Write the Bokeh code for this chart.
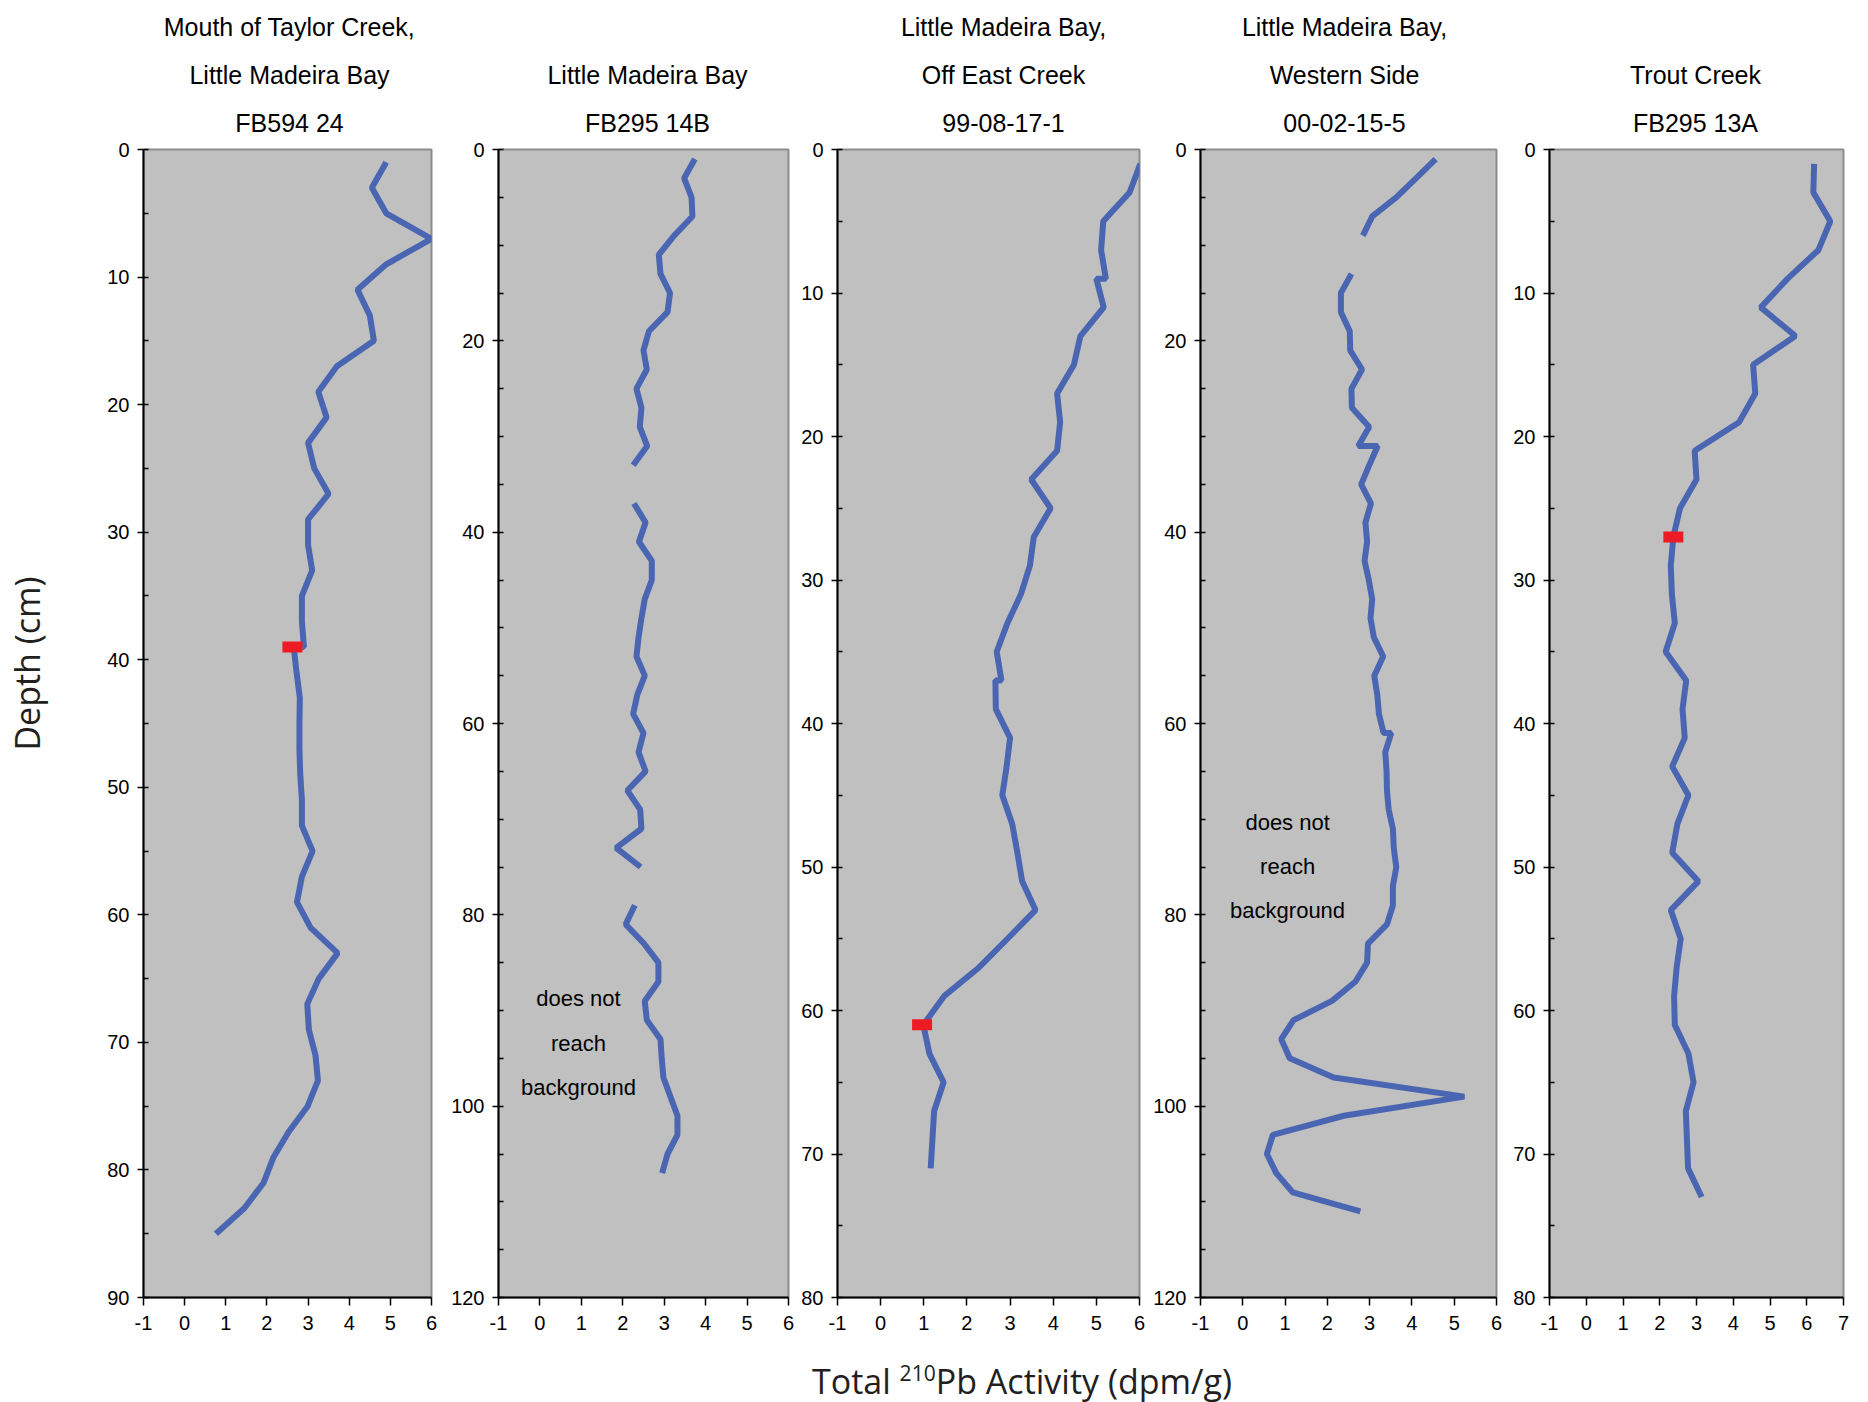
import math
from bokeh.plotting import figure
from bokeh.models import Range1d, FixedTicker, Div, Spacer, ColumnDataSource
from bokeh.layouts import row, column
from bokeh.embed import file_html
from bokeh.resources import INLINE
from bokeh.core.properties import value

nan = float("nan")

# ---------------- data (depth in cm, total 210Pb activity in dpm/g) ----------------
titles1 = ["Mouth of Taylor Creek,", "Little Madeira Bay", "FB594 24"]
depth1 = [1, 3, 5, 7, 9, 11, 13, 15, 17, 19, 21, 23, 25, 27, 29, 31, 33, 35, 37, 39, 39,
          41, 43, 45, 47, 49, 51, 53, 55, 57, 59, 61, 63, 65, 67, 69, 71, 73, 75, 77, 79,
          81, 83, 85]
act1 = [4.9, 4.55, 4.9, 6.0, 4.9, 4.2, 4.5, 4.6, 3.7, 3.25, 3.45, 3.0, 3.15, 3.5, 3.0, 3.0,
        3.1, 2.85, 2.85, 2.9, 2.65, 2.72, 2.8, 2.79, 2.79, 2.81, 2.85, 2.85, 3.11, 2.85,
        2.73, 3.06, 3.72, 3.26, 2.98, 3.02, 3.18, 3.24, 2.99, 2.53, 2.16, 1.92, 1.45, 0.76]
marker1_act = [2.62]
marker1_depth = [39]

titles2 = ["Little Madeira Bay", "FB295 14B"]
depth2 = [1, 3, 5, 7, 9, 11, 13, 15, 17, 19, 21, 23, 25, 27, 29, 31, 33, 35, 37, 39, 41,
          43, 45, 47, 49, 51, 53, 55, 57, 59, 61, 63, 65, 67, 69, 71, 73, 75, 77, 79, 81,
          83, 85, 87, 89, 91, 93, 95, 97, 99, 101, 103, 105, 107]
act2 = [3.74, 3.48, 3.66, 3.68, 3.24, 2.87, 2.91, 3.14, 3.08, 2.63, 2.5, 2.58, 2.33, 2.45,
        2.41, 2.59, 2.25, nan, 2.27, 2.55, 2.39, 2.7, 2.7, 2.53, 2.45, 2.38, 2.33, 2.53,
        2.35, 2.25, 2.5, 2.38, 2.55, 2.11, 2.42, 2.45, 1.84, 2.43, nan, 2.29, 2.07, 2.51,
        2.86, 2.86, 2.53, 2.58, 2.91, 2.94, 2.98, 3.15, 3.32, 3.32, 3.08, 2.95]
marker2_act = []
marker2_depth = []

titles3 = ["Little Madeira Bay,", "Off East Creek", "99-08-17-1"]
depth3 = [1, 3, 5, 7, 9, 9, 11, 13, 15, 17, 19, 21, 23, 25, 27, 29, 31, 33, 35, 37, 37, 39,
          41, 43, 45, 47, 49, 51, 53, 55, 57, 59, 61, 63, 65, 67, 69, 71]
act3 = [6.02, 5.77, 5.16, 5.11, 5.22, 5.0, 5.17, 4.63, 4.48, 4.09, 4.16, 4.09, 3.49, 3.94,
        3.55, 3.46, 3.25, 2.94, 2.69, 2.8, 2.66, 2.67, 3.0, 2.92, 2.82, 3.05, 3.17, 3.28,
        3.59, 2.94, 2.28, 1.47, 0.99, 1.13, 1.46, 1.24, 1.2, 1.16]
marker3_act = [0.96]
marker3_depth = [61]

titles4 = ["Little Madeira Bay,", "Western Side", "00-02-15-5"]
depth4 = [1, 3, 5, 7, 9, 11, 13, 15, 17, 19, 21, 23, 25, 27, 29, 31, 31, 33, 35, 37, 39, 41,
          43, 45, 47, 49, 51, 53, 55, 57, 59, 61, 61, 63, 65, 67, 69, 71, 73, 75, 77, 79, 81,
          83, 85, 87, 89, 91, 93, 95, 97, 99, 101, 103, 105, 107, 109, 111]
act4 = [4.56, 4.1, 3.63, 3.06, 2.84, nan, 2.57, 2.32, 2.32, 2.53, 2.54, 2.82, 2.57, 2.58,
        2.99, 2.73, 3.19, 2.99, 2.8, 3.03, 2.9, 2.94, 2.88, 2.98, 3.06, 3.02, 3.1, 3.32,
        3.11, 3.18, 3.22, 3.33, 3.51, 3.37, 3.4, 3.41, 3.45, 3.55, 3.57, 3.63, 3.55, 3.55,
        3.41, 2.96, 2.94, 2.66, 2.11, 1.2, 0.91, 1.11, 2.15, 5.24, 2.39, 0.71, 0.57, 0.79,
        1.18, 2.78]
marker4_act = []
marker4_depth = []

titles5 = ["Trout Creek", "FB295 13A"]
depth5 = [1, 3, 5, 7, 9, 11, 13, 15, 17, 19, 21, 23, 25, 27, 29, 31, 33, 35, 37, 39, 41, 43,
          45, 47, 49, 51, 53, 55, 57, 59, 61, 63, 65, 67, 69, 71, 73]
act5 = [6.2, 6.18, 6.64, 6.32, 5.48, 4.75, 5.69, 4.54, 4.6, 4.16, 2.95, 3.0, 2.55, 2.37,
        2.3, 2.33, 2.41, 2.16, 2.72, 2.62, 2.68, 2.34, 2.78, 2.48, 2.34, 3.05, 2.3, 2.57,
        2.46, 2.39, 2.41, 2.78, 2.92, 2.71, 2.74, 2.77, 3.14]
marker5_act = [2.37]
marker5_depth = [27]

x_max = [6, 6, 6, 6, 7]
depth_max = [90, 120, 80, 120, 80]
depth_step = [10, 20, 10, 20, 10]

note_lines = ["does not", "reach", "background"]

y_label = "Depth (cm)"
x_label_html = ('Total <sup style="font-size:0.62em;vertical-align:0.6em;line-height:0">'
                '210</sup>Pb Activity (dpm/g)')

# ---------------- styling / layout (pixel geometry of the page) ----------------
BLUE = "#4A66B2"
RED = "#ED1C24"
GRAY = "#C0C0C0"
INK = "#231F20"
SANS = "Liberation Sans"

LABEL_W = 60
frame_w = [288, 290, 302, 296, 294]
border_left = [143 - LABEL_W, 57, 39, 51, 43]
title_cx = [289, 647, 1003, 1344, 1695]        # page x of title centres
title_row_y = [26, 74, 122]                      # page y of the three title rows
note_pos = [None, (0.93, [88.7, 93.4, 98.1]), None, (1.06, [70.3, 74.9, 79.5]), None]

STRIP_H, TOP, FRAME_H, BOTTOM, RIGHT = 137, 12, 1148, 55, 10
PANEL_H = TOP + FRAME_H + BOTTOM
fig_w = [border_left[i] + frame_w[i] + RIGHT for i in range(5)]
TOTAL_W = LABEL_W + sum(fig_w)

all_titles = [titles1, titles2, titles3, titles4, titles5]
all_depth = [depth1, depth2, depth3, depth4, depth5]
all_act = [act1, act2, act3, act4, act5]
all_mx = [marker1_act, marker2_act, marker3_act, marker4_act, marker5_act]
all_my = [marker1_depth, marker2_depth, marker3_depth, marker4_depth, marker5_depth]


def blank(width, height):
    f = figure(width=width, height=height, x_range=Range1d(0, width),
               y_range=Range1d(height, 0), x_axis_type=None, y_axis_type=None,
               output_backend="svg", toolbar_location=None, min_border=0,
               outline_line_color=None, background_fill_color="white",
               border_fill_color="white")
    f.grid.visible = False
    return f


# --- title strip across the top ---
tx, ty, tt = [], [], []
for i in range(5):
    lines = all_titles[i]
    rows = title_row_y[len(title_row_y) - len(lines):]
    for line, ry in zip(lines, rows):
        tx.append(title_cx[i])
        ty.append(ry)
        tt.append(line)
top_strip = blank(TOTAL_W, STRIP_H)
top_strip.text(x="x", y="y", text="t", source=ColumnDataSource(dict(x=tx, y=ty, t=tt)),
               text_align="center", text_baseline="middle", text_font=value(SANS),
               text_font_size="25px", text_color="black")

# --- y-axis title strip on the left ---
left_strip = blank(LABEL_W, PANEL_H)
left_strip.text(x=[26], y=[681 - STRIP_H], text=[y_label], angle=math.pi / 2,
                text_align="center", text_baseline="middle",
                text_font=value("Open Sans"), text_font_size="34px", text_color=INK)

figs = [left_strip]
for i in range(5):
    xmin, xmax, dmax = -1, x_max[i], depth_max[i]
    p = figure(width=fig_w[i], height=PANEL_H,
               x_range=Range1d(xmin, xmax), y_range=Range1d(dmax, 0),
               output_backend="svg", toolbar_location=None,
               min_border_left=border_left[i], min_border_right=RIGHT,
               min_border_top=TOP, min_border_bottom=BOTTOM,
               background_fill_color=GRAY, border_fill_color="white",
               outline_line_color="#8C8C8C", outline_line_width=2)
    p.xgrid.visible = False
    p.ygrid.visible = False

    xt = list(range(xmin, xmax + 1))
    p.xaxis.ticker = FixedTicker(ticks=xt)
    p.xaxis.major_label_overrides = {t: str(t) for t in xt}
    p.xaxis.major_tick_in = 0
    p.xaxis.major_tick_out = 8
    p.xaxis.major_label_standoff = 10

    p.yaxis.ticker = FixedTicker(
        ticks=list(range(0, dmax + 1, depth_step[i])),
        minor_ticks=list(range(0, dmax + 1, 5)))
    p.yaxis.major_tick_in = 0
    p.yaxis.major_tick_out = 6
    p.yaxis.minor_tick_in = 5
    p.yaxis.minor_tick_out = 0
    p.yaxis.major_label_standoff = 8

    for ax, minor in ((p.xaxis[0], None), (p.yaxis[0], "black")):
        ax.axis_line_color = "black"
        ax.axis_line_width = 2
        ax.major_tick_line_color = "black"
        ax.major_tick_line_width = 1.5
        ax.minor_tick_line_color = minor
        ax.minor_tick_line_width = 1.5
        ax.major_label_text_font = SANS
        ax.major_label_text_font_size = "20px"
        ax.major_label_text_color = "black"

    src = ColumnDataSource(dict(x=all_act[i], y=all_depth[i]))
    p.line("x", "y", source=src, line_color=BLUE, line_width=6)

    if all_mx[i]:
        p.rect(x=all_mx[i], y=all_my[i], width=20, height=11,
               width_units="screen", height_units="screen",
               fill_color=RED, line_color=None)

    if note_pos[i] is not None:
        nx, ny = note_pos[i]
        p.text(x=[nx] * 3, y=ny, text=note_lines, text_align="center",
               text_baseline="middle", text_font=value(SANS),
               text_font_size="22px", text_color="black")
    figs.append(p)

xlabel = Div(text=x_label_html, width=540, height=46,
             styles={"font-family": "Open Sans", "font-size": "34px",
                     "color": INK, "white-space": "nowrap"})
layout = column(top_strip, row(*figs), row(Spacer(width=807, height=46), xlabel))

open("out.html", "w").write(file_html(layout, INLINE))
